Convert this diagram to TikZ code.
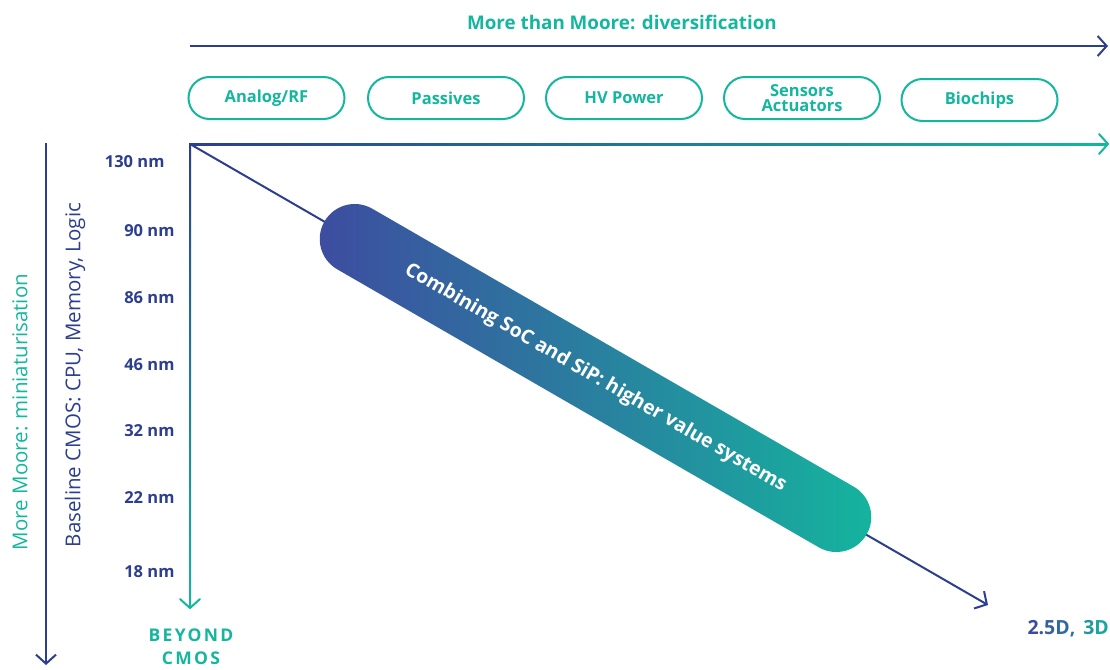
\documentclass[tikz,border=0pt]{standalone}
\usepackage{fontspec}
\setmainfont{Open Sans}
\usetikzlibrary{arrows.meta}
\definecolor{navy}{RGB}{44,62,142}
\definecolor{navyb}{RGB}{62,74,160}
\definecolor{teal}{RGB}{20,182,158}
\tikzset{
  axis/.style={line width=2pt, -{Straight Barb[length=9pt,width=20pt,line width=2pt]}},
  pill/.style={draw=teal, line width=2pt, rounded corners=21pt, minimum width=156pt, minimum height=42pt, inner sep=0pt, fill=white, text=teal, font=\fontsize{16.5}{16.5}\selectfont\bfseries, align=center},
  nm/.style={anchor=east, text=navy, font=\fontsize{16.5}{16.5}\selectfont\bfseries},
  sidelabel/.style={rotate=90, font=\fontsize{20.5}{20.5}\selectfont}
}
\begin{document}
\begin{tikzpicture}[x=1pt,y=-1pt]
\useasboundingbox (0,0) rectangle (1110,669);
% coordinates
\coordinate (O) at (190,144);
\coordinate (topL) at (190,46);
\coordinate (topR) at (1108,46);
\coordinate (hR) at (1108,144);
\coordinate (vB) at (190,608);
\coordinate (dE) at (988,605);
\coordinate (lT) at (46,143);
\coordinate (lB) at (46,665);
% title
\node[text=teal, font=\fontsize{18.8}{18.8}\selectfont\bfseries] (title) at (622,22) {More than Moore: diversification};
\draw[axis, navy] (topL) -- (topR);
% pills
\node[pill] (p1) at (266.5,98) {Analog/RF};
\node[pill] (p2) at (446,98) {Passives};
\node[pill] (p3) at (624,98) {HV Power};
\node[pill, font=\fontsize{16.5}{15}\selectfont\bfseries] (p4) at (802,98) {Sensors\\Actuators};
\node[pill] (p5) at (979.5,100) {Biochips};
% gradient horizontal axis
\shade[left color=navy, right color=teal] (189,143) rectangle (1106,145);
\draw[teal, line width=2pt, line cap=round] (1099,134) -- (1108,144) -- (1099,154);
% gradient vertical axis
\shade[top color=navy, bottom color=teal] (189,143) rectangle (191,606);
\draw[teal, line width=2pt, line cap=round] (180,599) -- (190,608) -- (200,599);
% diagonal
\draw[axis, navy] (O) -- (dE);
% capsule
\node[rotate=-30, minimum width=626pt, minimum height=70pt, rounded corners=35pt, left color=navyb, right color=teal, inner sep=0pt, text=white, font=\fontsize{19.5}{19.5}\selectfont\bfseries] (caps) at (595.5,378) {Combining SoC and SiP: higher value systems};
% nm labels
\node[nm] (n1) at (168,162) {130 nm};
\node[nm] (n2) at (178,231) {90 nm};
\node[nm] (n3) at (178,298) {86 nm};
\node[nm] (n4) at (178,365) {46 nm};
\node[nm] (n5) at (178,431) {32 nm};
\node[nm] (n6) at (178,498) {22 nm};
\node[nm] (n7) at (178,572) {18 nm};
% beyond cmos
\node[text=teal, font=\fontsize{17.5}{23}\selectfont\bfseries\addfontfeatures{LetterSpace=13}, align=center, anchor=north] (bc) at (191,625) {BEYOND\\CMOS};
% 2.5D 3D
\node[anchor=east, inner sep=0pt, font=\fontsize{19.5}{19.5}\selectfont\bfseries\addfontfeatures{LetterSpace=14}] (d3) at (1109,629) {\textcolor{navyb}{2}\textcolor{navyb!90!teal}{.}\textcolor{navyb!80!teal}{5}\textcolor{navyb!70!teal}{D}\textcolor{navyb!60!teal}{,} \textcolor{navyb!30!teal}{3}\textcolor{navyb!15!teal}{D}};
% left arrow and side labels
\draw[axis, navy] (lT) -- (lB);
\node[sidelabel, text=teal] (mm) at (20,412) {More Moore: miniaturisation};
\node[sidelabel, text=navy] (bl) at (75,375) {Baseline CMOS: CPU, Memory, Logic};
\end{tikzpicture}
\end{document}
